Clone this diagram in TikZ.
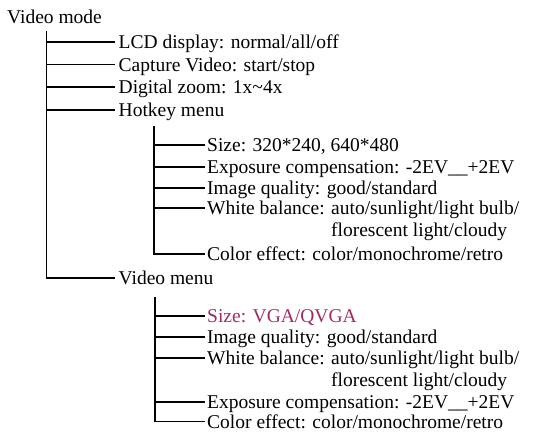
\documentclass[tikz,border=0pt]{standalone}
\usepackage{fontspec}
\setmainfont{Liberation Serif}
\definecolor{sizered}{RGB}{163,42,102}

\begin{document}
\begin{tikzpicture}[x=1pt, y=-1pt,
	item/.style={anchor=west, inner sep=2pt, text height=13pt, text depth=0pt, font=\fontsize{19.5}{21}\selectfont},
	top/.style={item, inner xsep=3.5pt},
	branch/.style={line width=1.9pt}]
	\useasboundingbox (0,0) rectangle (534,432);
	% top level
	\node[item] (mode) at (5,16.5) {Video mode};
	\coordinate (mode-t) at (46.5,31);
	\node[top] (lcd) at (115,41.7) {LCD display: normal/all/off};
	\node[top] (capture) at (115,64.5) {Capture Video: start/stop};
	\node[top] (zoom) at (115,87.3) {Digital zoom: 1x\textasciitilde4x};
	\node[top] (hotkey) at (115,110) {Hotkey menu};
	\node[top] (vmenu) at (115,278) {Video menu};
	\foreach \n in {lcd,capture,zoom,hotkey,vmenu} {\draw[branch] (mode-t) |- (\n.west);}
	% hotkey menu
	\coordinate (hot-t) at (154,126);
	\node[item] (hsize) at (205,145) {Size: 320*240, 640*480};
	\node[item] (hexp) at (205,167) {Exposure compensation: -2EV\_\_+2EV};
	\node[item] (hqual) at (205,188) {Image quality: good/standard};
	\node[item] (hwb) at (205,208) {White balance: auto/sunlight/light bulb/};
	\node[item] (hwb2) at (205,229.5) {\hphantom{White balance: }florescent light/cloudy};
	\node[item] (hcol) at (205,254) {Color effect: color/monochrome/retro};
	\foreach \n in {hsize,hexp,hqual,hwb,hcol} {\draw[branch] (hot-t) |- (\n.west);}
	% video menu
	\coordinate (vm-t) at (155,297);
	\node[item, text=sizered] (vsize) at (205,316) {Size: VGA/QVGA};
	\node[item] (vqual) at (205,337) {Image quality: good/standard};
	\node[item] (vwb) at (205,358) {White balance: auto/sunlight/light bulb/};
	\node[item] (vwb2) at (205,379.5) {\hphantom{White balance: }florescent light/cloudy};
	\node[item] (vexp) at (205,402) {Exposure compensation: -2EV\_\_+2EV};
	\node[item] (vcol) at (205,421.5) {Color effect: color/monochrome/retro};
	\foreach \n in {vsize,vqual,vwb,vexp,vcol} {\draw[branch] (vm-t) |- (\n.west);}
\end{tikzpicture}
\end{document}
